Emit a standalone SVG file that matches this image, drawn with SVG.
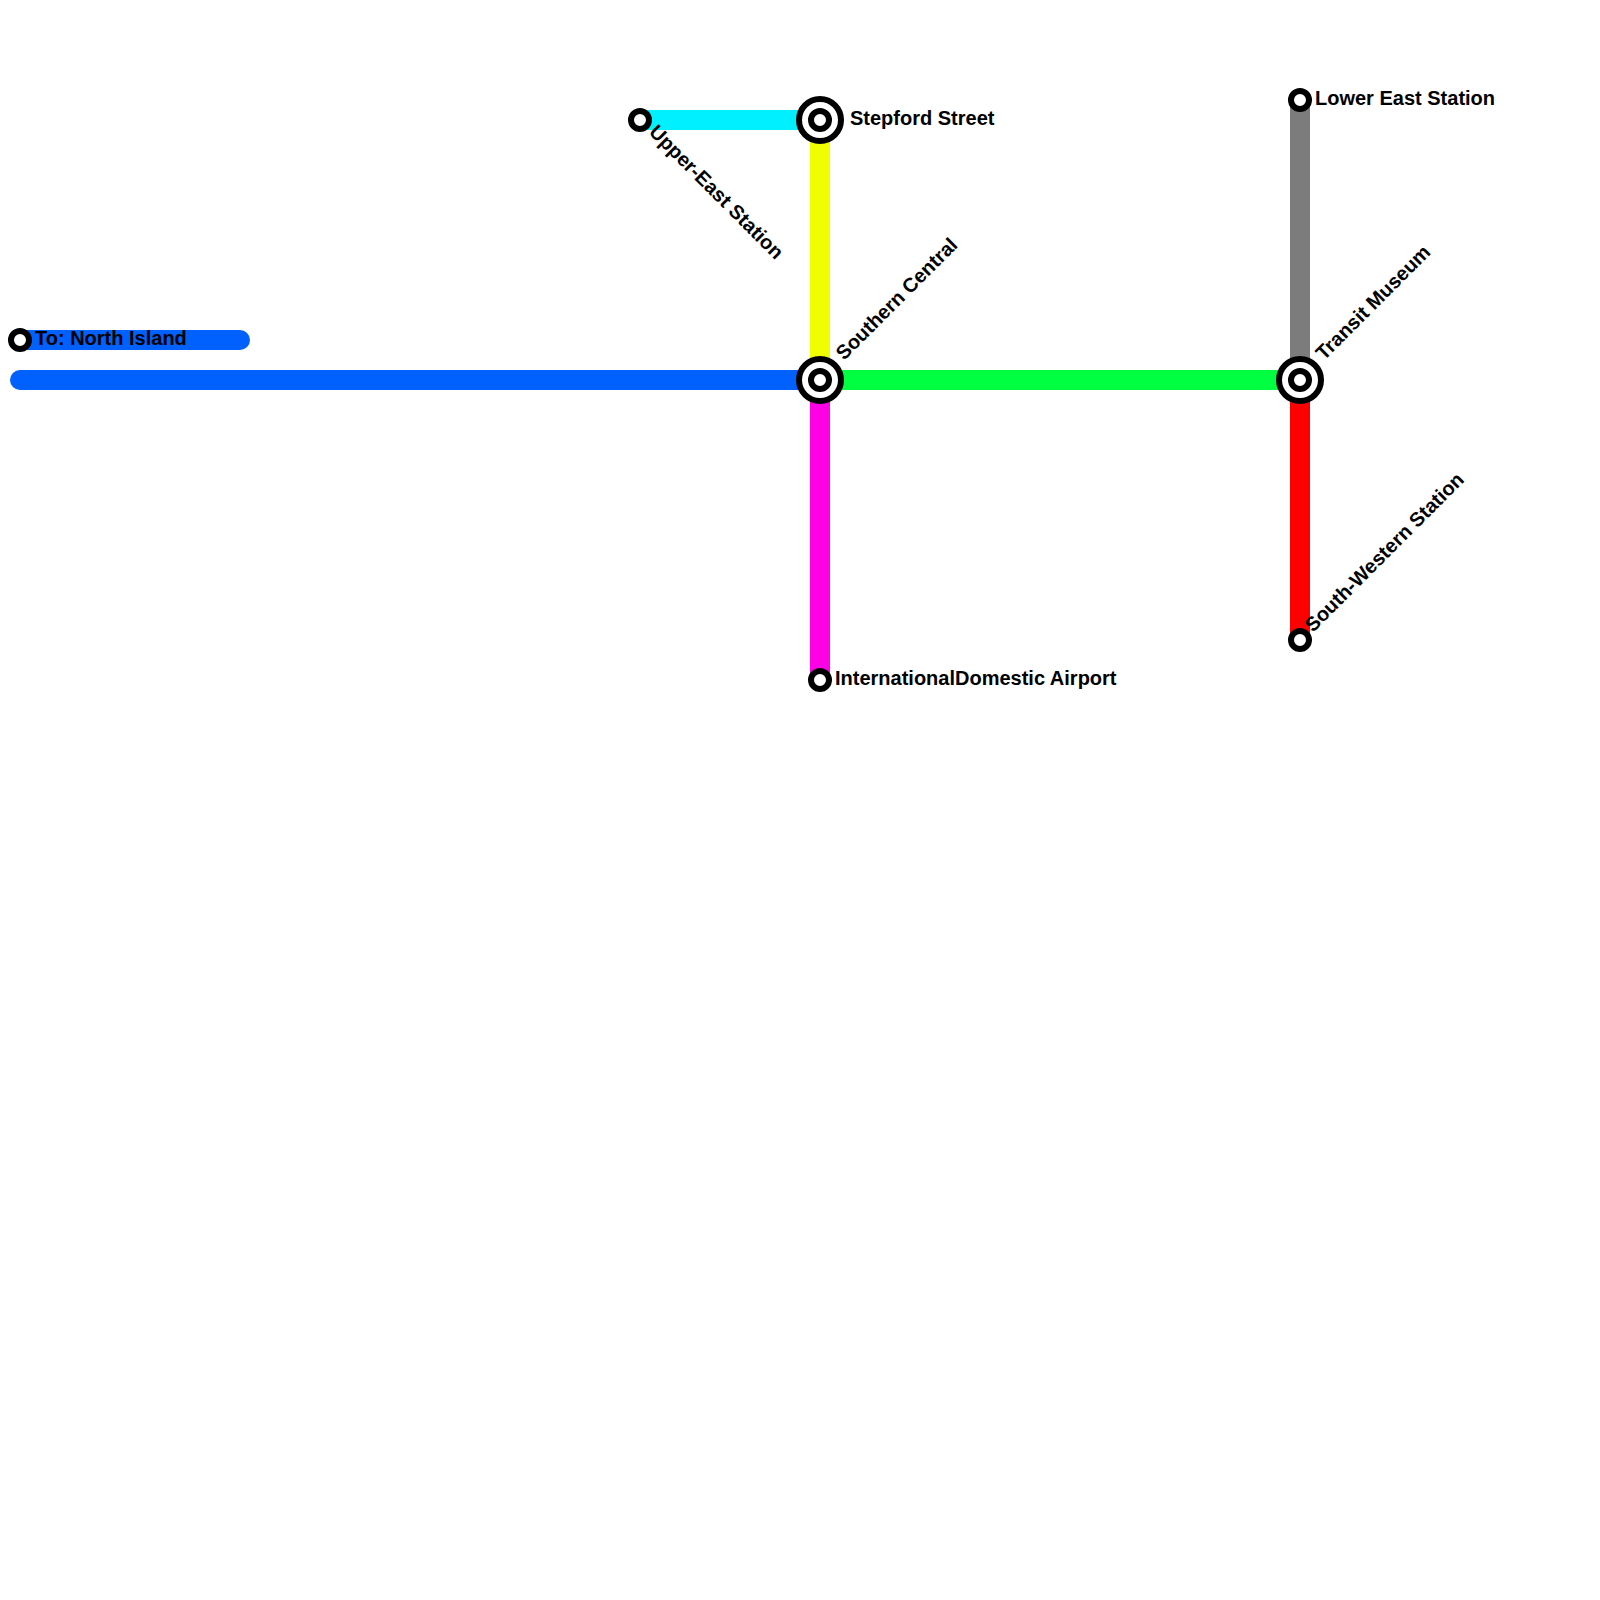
<svg xmlns="http://www.w3.org/2000/svg" width="1600" height="1600" viewBox="0 0 1600 1600">
<style>
.l{fill:none;stroke-width:20;stroke-linecap:round}
.s{fill:#fff;stroke:#000;stroke-width:6}
text{font-family:"Liberation Sans",Arial,sans-serif;font-weight:bold;font-size:20px;fill:#000}
</style>
<rect width="1600" height="1600" fill="#fff"/>
<g id="connectors">
<path class="l" stroke="#0061ff" d="M20 340H240"/>
<path class="l" stroke="#0061ff" d="M20 380H820"/>
<path class="l" stroke="#00f0ff" d="M640 120H820"/>
<path class="l" stroke="#f0ff00" d="M820 120V380"/>
<path class="l" stroke="#ff00e6" d="M820 380V680"/>
<path class="l" stroke="#00ff41" d="M820 380H1300"/>
<path class="l" stroke="#7c7c7c" d="M1300 100V380"/>
<path class="l" stroke="#ff0000" d="M1300 380V640"/>
</g>
<g id="north-island"><circle class="s" cx="20" cy="340" r="9"/><text x="35" y="345">To: North Island</text></g>
<g id="upper-east"><circle class="s" cx="640" cy="120" r="9"/><text transform="translate(648 133) rotate(45)">Upper-East Station</text></g>
<g id="stepford"><circle class="s" cx="820" cy="120" r="21"/><circle class="s" cx="820" cy="120" r="9"/><text x="850" y="125">Stepford Street</text></g>
<g id="southern-central"><circle class="s" cx="820" cy="380" r="21"/><circle class="s" cx="820" cy="380" r="9"/><text transform="translate(844 361) rotate(-45)">Southern Central</text></g>
<g id="transit-museum"><circle class="s" cx="1300" cy="380" r="21"/><circle class="s" cx="1300" cy="380" r="9"/><text transform="translate(1324 361) rotate(-45)">Transit Museum</text></g>
<g id="lower-east"><circle class="s" cx="1300" cy="100" r="9"/><text x="1315" y="105">Lower East Station</text></g>
<g id="south-western"><circle class="s" cx="1300" cy="640" r="9"/><text transform="translate(1313 633) rotate(-45)">South-Western Station</text></g>
<g id="airport"><circle class="s" cx="820" cy="680" r="9"/><text x="835" y="685">InternationalDomestic Airport</text></g>
</svg>
